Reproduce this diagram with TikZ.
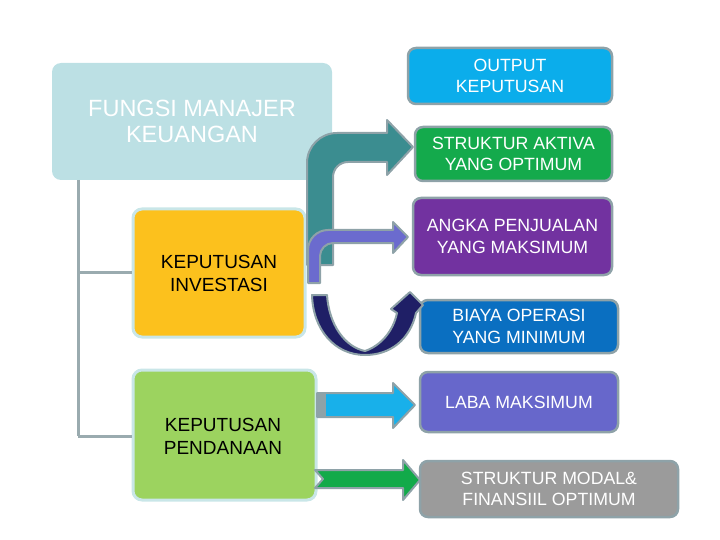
\documentclass[tikz,border=0pt]{standalone}
\usepackage{fontspec}
\setmainfont{Liberation Sans}
\definecolor{titlebg}{HTML}{BCE0E4}
\definecolor{invbg}{HTML}{FCC11D}
\definecolor{danbg}{HTML}{9CD35F}
\definecolor{outbg}{HTML}{0BADEB}
\definecolor{aktbg}{HTML}{14AA4C}
\definecolor{angbg}{HTML}{7232A0}
\definecolor{biabg}{HTML}{0A6FC1}
\definecolor{labbg}{HTML}{6767CB}
\definecolor{modbg}{HTML}{9B9B9B}
\definecolor{edge}{HTML}{8EA2A8}
\definecolor{ledge}{HTML}{C9E6E8}
\definecolor{treeline}{HTML}{9AABAF}
\definecolor{tealarr}{HTML}{3B8D90}
\definecolor{purarr}{HTML}{6B6BCE}
\definecolor{navyarr}{HTML}{1F1F66}
\definecolor{bluearr}{HTML}{18B0EA}
\definecolor{grnarr}{HTML}{12AA4A}
\tikzset{
  rbox/.style={draw=edge, line width=2.5pt, rounded corners=8pt, text=white, align=center,
    font=\fontsize{17.7}{21.5}\selectfont, inner sep=0pt},
  lbox/.style={draw=ledge, line width=3pt, rounded corners=9pt, text=black, align=center,
    font=\fontsize{19}{23}\selectfont, inner sep=0pt},
  arr/.style={draw=edge, line width=2pt, line join=round},
  tree/.style={draw=treeline, line width=3pt}
}
\begin{document}
\begin{tikzpicture}[x=1pt,y=-1pt]
\useasboundingbox (0,0) rectangle (720,540);
% title
\node[fill=titlebg, rounded corners=9pt, minimum width=280pt, minimum height=117pt, inner sep=0pt,
  text=white, align=center, font=\fontsize{23.5}{26}\selectfont] (title) at (192,121.5) {FUNGSI MANAJER\\KEUANGAN};
% tree
\coordinate (t0) at (78,180);
\coordinate (t1) at (78,272);
\coordinate (t2) at (78,436);
\draw[tree] (t0) -- (t2);
% left boxes
\node[lbox, fill=invbg, minimum width=172pt, minimum height=128pt] (inv) at (219,273) {KEPUTUSAN\\INVESTASI};
\node[lbox, fill=danbg, minimum width=183pt, minimum height=130pt] (dan) at (224.5,435) {};
\draw[tree] (t1) -- (inv.west|-t1);
\draw[tree] (t2) -- (dan.west|-t2);
\node[align=center, font=\fontsize{19}{23}\selectfont] (dantxt) at (223,436) {KEPUTUSAN\\PENDANAAN};
% right boxes
\node[rbox, fill=outbg, minimum width=204pt, minimum height=56pt] (out) at (510,76) {OUTPUT\\KEPUTUSAN};
\node[rbox, fill=aktbg, minimum width=197pt, minimum height=54pt] (akt) at (513.5,154) {STRUKTUR AKTIVA\\YANG OPTIMUM};
\node[rbox, fill=angbg, minimum width=199pt, minimum height=77pt] (ang) at (512.5,236.5) {ANGKA PENJUALAN\\YANG MAKSIMUM};
\node[rbox, fill=biabg, minimum width=198pt, minimum height=53pt] (bia) at (519,326.5) {BIAYA OPERASI\\YANG MINIMUM};
\node[rbox, fill=labbg, minimum width=198pt, minimum height=60pt] (lab) at (519,402) {LABA MAKSIMUM};
\node[rbox, fill=modbg, minimum width=258pt, minimum height=56pt] (mod) at (549,489) {STRUKTUR MODAL\&\\FINANSIIL OPTIMUM};
% teal bent arrow
\path[arr, fill=tealarr] (307,265) -- (307,163) .. controls (307,146.4) and (320.4,133) .. (337,133)
  -- (387,133) -- (387,120) -- (413,147) -- (387,175) -- (387,162) -- (348,162)
  .. controls (339.7,162) and (333,168.7) .. (333,177) -- (333,265) -- cycle;
% purple bent arrow
\path[arr, fill=purarr] (308,283) -- (308,250) .. controls (308,239) and (317,230) .. (328,230)
  -- (393,230) -- (393,222) -- (408,237) -- (393,253) -- (393,243) -- (333,243)
  .. controls (326,243) and (320,249) .. (320,256) -- (320,283) -- cycle;
% navy U arrow
\path[arr, fill=navyarr] (312,295) -- (327,295) .. controls (329,325) and (345,347) .. (365,351)
  .. controls (380,346) and (393,332) .. (397,313) -- (391,309) -- (410,292) -- (423,305) -- (416,313)
  .. controls (410,340) and (390,355) .. (365,355) .. controls (335,355) and (313,330) .. (312,295) -- cycle;
% light blue arrow
\path[arr, fill=bluearr] (317,393) -- (393,393) -- (393,383) -- (415,405) -- (393,428) -- (393,417) -- (317,417) -- cycle;
\fill[edge] (317,393) rectangle (326,417);
% green notched arrow
\path[arr, fill=grnarr] (315,470) -- (403,470) -- (403,460) -- (420,480) -- (403,500) -- (403,488) -- (315,488) -- (323,479) -- cycle;
\end{tikzpicture}
\end{document}
